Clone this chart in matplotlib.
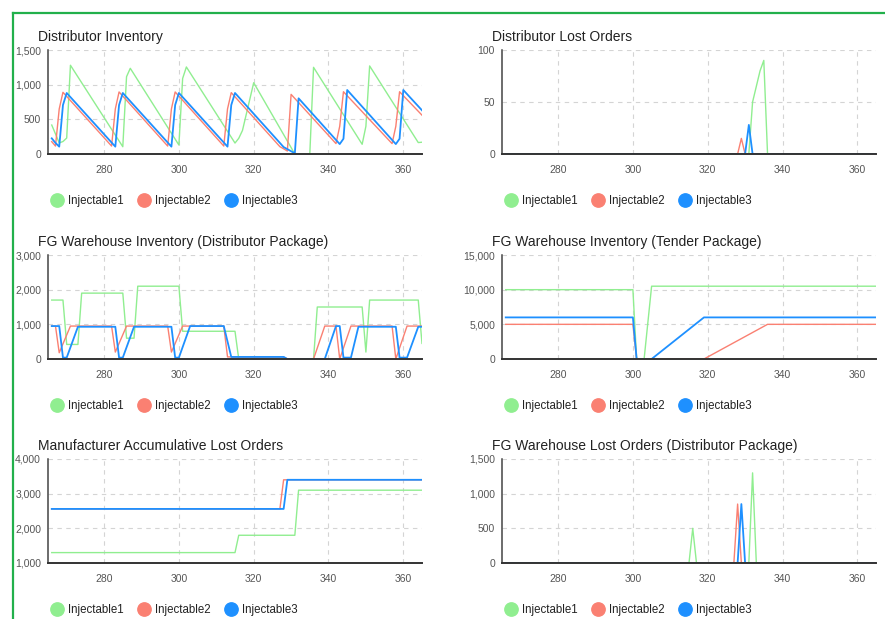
import matplotlib.pyplot as plt
from matplotlib.lines import Line2D
from matplotlib.ticker import FuncFormatter, MultipleLocator

plt.rcParams['font.family'] = ['Liberation Sans', 'DejaVu Sans']

names = ['Injectable1', 'Injectable2', 'Injectable3']
colors = ['#90ee90', '#fa8072', '#1e90ff']
widths = [1.0, 1.0, 1.3]

# Distributor Inventory (breakpoints: day, value)
di_days_1 = [266, 267, 268, 269, 270, 271, 285, 286, 287, 300, 301, 302, 315, 316, 317, 320,
             331, 335, 336, 349, 350, 351, 364, 365]
di_vals_1 = [418, 290, 160, 180, 230, 1280, 105, 1115, 1236, 130, 1090, 1255, 158, 226, 340, 1028,
             0, 0, 1250, 140, 400, 1270, 165, 170]
di_days_2 = [266, 267, 268, 269, 282, 283, 284, 297, 298, 299, 312, 313, 314, 327, 328, 329, 330,
             342, 343, 344, 357, 358, 359, 365]
di_vals_2 = [178, 115, 650, 890, 115, 650, 895, 115, 650, 895, 115, 650, 885, 106, 75, 43, 860,
             150, 400, 898, 150, 400, 898, 560]
di_days_3 = [266, 267, 268, 269, 270, 283, 284, 285, 298, 299, 300, 313, 314, 315, 328, 331, 332,
             343, 344, 345, 358, 359, 360, 365]
di_vals_3 = [226, 160, 106, 706, 880, 106, 706, 880, 106, 706, 880, 106, 706, 880, 100, 10, 803,
             143, 220, 923, 143, 220, 923, 630]

# Distributor Lost Orders
dl_days_1 = [266, 331, 332, 333, 334, 335, 336, 365]
dl_vals_1 = [0, 0, 50, 65, 80, 90, 0, 0]
dl_days_2 = [266, 328, 329, 330, 365]
dl_vals_2 = [0, 0, 15, 0, 0]
dl_days_3 = [266, 330, 331, 332, 365]
dl_vals_3 = [0, 0, 28, 0, 0]

# FG Warehouse Inventory (Distributor Package)
fd_days_1 = [266, 269, 270, 273, 274, 285, 286, 288, 289, 300, 301, 315, 316, 336, 337, 349, 350,
             351, 364, 365]
fd_vals_1 = [1700, 1700, 420, 420, 1900, 1900, 600, 600, 2100, 2100, 800, 800, 0, 0, 1500, 1500, 200,
             1700, 1700, 450]
fd_days_2 = [266, 267, 268, 271, 282, 283, 286, 297, 298, 301, 312, 313, 328, 329, 336, 339, 342,
             343, 346, 357, 358, 361, 365]
fd_vals_2 = [950, 950, 180, 950, 950, 200, 950, 950, 200, 950, 950, 60, 60, 0, 0, 950, 950,
             0, 950, 950, 0, 950, 950]
fd_days_3 = [266, 268, 269, 270, 273, 283, 284, 285, 288, 298, 299, 300, 303, 312, 314, 328, 329,
             339, 342, 343, 344, 346, 348, 358, 359, 361, 364, 365]
fd_vals_3 = [950, 950, 40, 40, 930, 930, 40, 40, 930, 930, 40, 40, 950, 950, 60, 60, 0,
             0, 950, 950, 40, 40, 930, 930, 40, 40, 930, 930]

# FG Warehouse Inventory (Tender Package)
ft_days_1 = [266, 300, 301, 303, 305, 365]
ft_vals_1 = [10000, 10000, 0, 0, 10500, 10500]
ft_days_2 = [266, 300, 301, 319, 336, 365]
ft_vals_2 = [5000, 5000, 0, 0, 5000, 5000]
ft_days_3 = [266, 300, 301, 305, 319, 365]
ft_vals_3 = [6000, 6000, 0, 0, 6000, 6000]

# Manufacturer Accumulative Lost Orders
ma_days_1 = [266, 315, 316, 331, 332, 365]
ma_vals_1 = [1300, 1300, 1800, 1800, 3100, 3100]
ma_days_2 = [266, 327, 328, 365]
ma_vals_2 = [2560, 2560, 3400, 3400]
ma_days_3 = [266, 328, 329, 365]
ma_vals_3 = [2560, 2560, 3400, 3400]

# FG Warehouse Lost Orders (Distributor Package)
fl_days_1 = [266, 315, 316, 317, 331, 332, 333, 365]
fl_vals_1 = [0, 0, 500, 0, 0, 1300, 0, 0]
fl_days_2 = [266, 327, 328, 329, 365]
fl_vals_2 = [0, 0, 850, 0, 0]
fl_days_3 = [266, 328, 329, 330, 365]
fl_vals_3 = [0, 0, 850, 0, 0]

panels = [
    ('Distributor Inventory', [(di_days_1, di_vals_1), (di_days_2, di_vals_2), (di_days_3, di_vals_3)], 0, 1500, 500),
    ('Distributor Lost Orders', [(dl_days_1, dl_vals_1), (dl_days_2, dl_vals_2), (dl_days_3, dl_vals_3)], 0, 100, 50),
    ('FG Warehouse Inventory (Distributor Package)', [(fd_days_1, fd_vals_1), (fd_days_2, fd_vals_2), (fd_days_3, fd_vals_3)], 0, 3000, 1000),
    ('FG Warehouse Inventory (Tender Package)', [(ft_days_1, ft_vals_1), (ft_days_2, ft_vals_2), (ft_days_3, ft_vals_3)], 0, 15000, 5000),
    ('Manufacturer Accumulative Lost Orders', [(ma_days_1, ma_vals_1), (ma_days_2, ma_vals_2), (ma_days_3, ma_vals_3)], 1000, 4000, 1000),
    ('FG Warehouse Lost Orders (Distributor Package)', [(fl_days_1, fl_vals_1), (fl_days_2, fl_vals_2), (fl_days_3, fl_vals_3)], 0, 1500, 500),
]

W, H = 885, 619
fig = plt.figure(figsize=(W / 100, H / 100), dpi=100)

col_left = [48, 502]
row_top = [50, 255, 459]
ax_w = 374
ax_h = 104

for i, (title, series, ymin, ymax, ystep) in enumerate(panels):
    r, c = divmod(i, 2)
    left = col_left[c]
    top = row_top[r]
    ax = fig.add_axes([left / W, 1 - (top + ax_h) / H, ax_w / W, ax_h / H])
    for (days, vals), col, lw in zip(series, colors, widths):
        ax.plot(days, vals, color=col, linewidth=lw, zorder=3)
    ax.set_xlim(265, 365)
    ax.set_ylim(ymin, ymax)
    ax.xaxis.set_major_locator(MultipleLocator(20))
    ax.yaxis.set_major_locator(MultipleLocator(ystep))
    ax.yaxis.set_major_formatter(FuncFormatter(lambda v, p: f'{v:,.0f}'))
    ax.grid(True, linestyle=(0, (4, 4)), color='#d4d4d4', linewidth=0.8, zorder=0)
    ax.set_axisbelow(True)
    for s in ['top', 'right']:
        ax.spines[s].set_visible(False)
    ax.spines['left'].set_color('#444444')
    ax.spines['left'].set_linewidth(1.1)
    ax.spines['bottom'].set_color('#333333')
    ax.spines['bottom'].set_linewidth(1.4)
    ax.spines['bottom'].set_zorder(4)
    ax.tick_params(length=0, labelsize=7.5, labelcolor='#555555')
    ax.tick_params(axis='x', pad=8)
    ax.tick_params(axis='y', pad=5)
    fig.text((left - 10) / W, 1 - (top - 13) / H, title, fontsize=10, color='#222222',
             ha='left', va='center')
    handles = [Line2D([], [], marker='o', linestyle='', markersize=9.6, color=col) for col in colors]
    ax.legend(handles, names, loc='center left', ncol=3, frameon=False,
              bbox_to_anchor=((left + 2.4) / W, 1 - (top + ax_h + 47) / H),
              bbox_transform=fig.transFigure, borderpad=0, borderaxespad=0,
              handlelength=1.2, handletextpad=0.36, columnspacing=1.14,
              prop={'size': 8.3}, labelcolor='#222222')

# green frame around the dashboard
fig.add_artist(Line2D([12.5 / W, 12.5 / W], [0, 1 - 13 / H], color='#22b04b', linewidth=1.6))
fig.add_artist(Line2D([12.5 / W, 1], [1 - 13 / H, 1 - 13 / H], color='#22b04b', linewidth=1.6))

fig.savefig('out.png', dpi=100, facecolor='white')
